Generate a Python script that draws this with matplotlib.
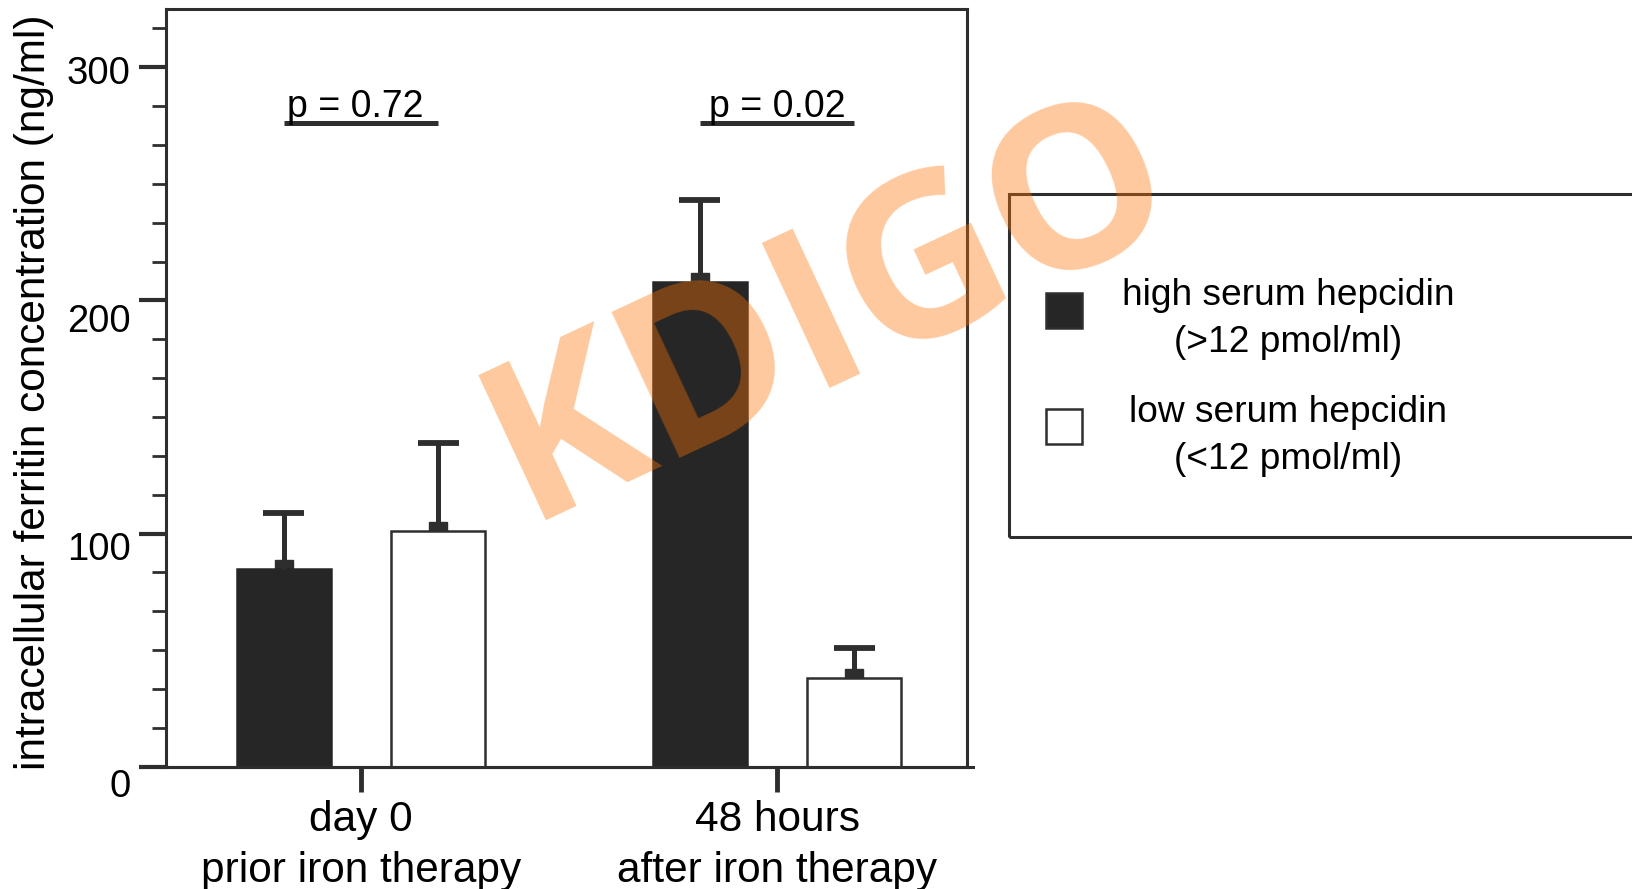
import numpy as np
import matplotlib.pyplot as plt
import matplotlib.transforms as mtransforms
from matplotlib.patches import Rectangle
from matplotlib.ticker import MultipleLocator

plt.rcParams['font.family'] = ['Liberation Sans', 'DejaVu Sans']

# ferritin (ng/ml), mean and SD per hepcidin group
groups = ['day 0\nprior iron therapy', '48 hours\nafter iron therapy']
high_mean = [85, 208]
high_sd = [24, 35]
low_mean = [101, 38]
low_sd = [38, 13]
p_values = ['p = 0.72', 'p = 0.02']
y_ticks = [0, 100, 200, 300]
legend_names = ['high serum hepcidin', 'low serum hepcidin']
legend_ranges = ['(>12 pmol/ml)', '(<12 pmol/ml)']

W, H = 1633, 889
dark = '#262626'
line_col = '#2e2e2e'


def fx(px):
    return px / W


def fy(py):
    return 1 - py / H


fig = plt.figure(figsize=(W / 100, H / 100), dpi=100)
ax = fig.add_axes([fx(166), fy(766.7), fx(967) - fx(166), fy(9) - fy(766.7)])

x = np.arange(len(groups))
off, width = 0.186, 0.226
cap = 0.049

for xs, means, sds, face in [(x - off, high_mean, high_sd, dark),
                             (x + off, low_mean, low_sd, 'white')]:
    means = np.array(means)
    tops = means + np.array(sds)
    # small block where the error line meets the bar
    ax.plot(xs, means, 's', ms=13.5, color=line_col, zorder=1)
    ax.bar(xs, means, width, color=face,
           edgecolor=line_col if face == 'white' else dark,
           linewidth=1.8, zorder=2)
    ax.vlines(xs, means, tops, color=line_col, lw=3.6, zorder=3)
    ax.hlines(tops, xs - cap, xs + cap, color=line_col, lw=4.2, zorder=3)

# significance bars
p_shift = [-0.015, 0.0]
for i, p in enumerate(p_values):
    ax.hlines(276, x[i] - off, x[i] + off, color=line_col, lw=3.6)
    ax.text(x[i] + p_shift[i], 278.5, p, ha='center', va='baseline',
            fontsize=27)

ax.set_xlim(-0.46875, 1.4567)
ax.set_ylim(0, 325)
ax.set_xticks(x, groups)
ax.set_yticks(y_ticks)
ax.yaxis.set_minor_locator(MultipleLocator(100 / 6))

ax.tick_params(axis='y', which='major', length=19.5, width=3, pad=6,
               labelsize=27.5, color=line_col)
ax.tick_params(axis='y', which='minor', length=10, width=2, color=line_col)
ax.tick_params(axis='x', length=18, width=3.5, pad=6, labelsize=30.5,
               color=line_col)
for lab in ax.get_xticklabels():
    lab.set_linespacing(1.36)

# nudge y tick labels down a little
shifts = {0: 16, 100: 12, 200: 18, 300: 3}
for val, lab in zip(y_ticks, ax.get_yticklabels()):
    lab.set_transform(lab.get_transform() + mtransforms.ScaledTranslation(
        0, -shifts[val] / 100, fig.dpi_scale_trans))

for s in ax.spines.values():
    s.set_linewidth(2.2)
    s.set_color(line_col)
ax.plot([0, 1 + 6 / 801], [0, 0], color=line_col, lw=2.2,
        transform=ax.transAxes, clip_on=False)

ax.set_ylabel('intracellular ferritin concentration (ng/ml)', fontsize=30.5)
ax.yaxis.set_label_coords((54 - 166) / 801, (766.7 - 392) / 757.7)

# key box
fig.add_artist(Rectangle((fx(1009), fy(537)), fx(1700) - fx(1009),
                         fy(194) - fy(537), transform=fig.transFigure,
                         fill=False, lw=2.2, ec=line_col))
for k, face in enumerate([dark, 'white']):
    y0 = [293, 409][k]
    fig.add_artist(Rectangle((fx(1046), fy(y0 + 35)), fx(1082) - fx(1046),
                             fy(y0) - fy(y0 + 35), transform=fig.transFigure,
                             fc=face, ec=line_col, lw=1.8))
    base = [305, 422][k]
    fig.text(fx(1288), fy(base), legend_names[k], ha='center', va='baseline',
             fontsize=26.7)
    fig.text(fx(1288), fy(base + 47), legend_ranges[k], ha='center',
             va='baseline', fontsize=26.7)

fig.text(fx(856), fy(366), 'KDIGO', fontsize=161, fontweight='bold',
         family=['Open Sans', 'DejaVu Sans'], color=(253 / 255, 115 / 255, 3 / 255),
         alpha=0.39, rotation=25, rotation_mode='anchor', ha='center',
         va='baseline', zorder=10)

fig.savefig('out.png', dpi=100)
